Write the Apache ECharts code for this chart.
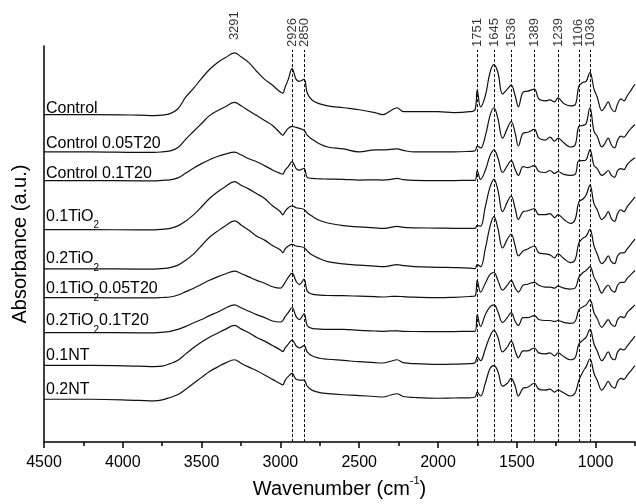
<!DOCTYPE html>
<html>
<head>
<meta charset="utf-8">
<script src="https://cdn.jsdelivr.net/npm/echarts@6/dist/echarts.min.js"></script>
<style>
  html, body { margin: 0; padding: 0; background: #fff; }
  #chart { width: 636px; height: 504px; }
</style>
</head>
<body>
<div id="chart"></div>
<script>
// wavenumber grid (cm-1), shared by every spectrum
const wavenumbers = [4500, 4200, 3900, 3800, 3750, 3700, 3650, 3600, 3550, 3500, 3450, 3400, 3350, 3291, 3250, 3200, 3150, 3100, 3050, 3000,
  2985, 2970, 2950, 2926, 2900, 2880, 2850, 2830, 2800, 2750, 2700, 2600, 2500, 2400, 2350, 2300, 2260, 2220, 2150, 2000, 1900, 1800,
  1765, 1751, 1730, 1700, 1670, 1645, 1620, 1590, 1560, 1536, 1510, 1490, 1460, 1430, 1389, 1360, 1320, 1290, 1260, 1239,
  1200, 1160, 1130, 1106, 1080, 1060, 1036, 1010, 990, 960, 940, 920, 900, 880, 860, 840, 820, 800, 775, 750];

// stacked absorbance (offset, arbitrary units)
const control = [334, 334, 333.5, 333, 333.5, 335, 340, 352, 361, 371, 380, 387, 392, 397, 393, 387, 378, 370, 364, 357,
  356, 362, 370, 381, 370, 368, 370, 356, 349, 345, 343, 341, 339, 336, 334, 338, 341, 337, 337, 337, 336, 337,
  339, 359, 342, 353, 377, 385, 377, 355, 360, 364, 353, 342, 357, 358, 360, 350, 348, 349, 347, 351,
  345, 343, 344, 363, 367, 368, 377, 360, 352, 338, 342, 347, 340, 337, 345, 350, 348, 353, 359, 365];
const control005T20 = [296, 296, 295.5, 295.5, 296, 297, 300.5, 309, 317, 325, 333, 338, 342, 346.5, 343, 338, 333, 328, 323, 315,
  313, 316, 320, 322, 321, 320, 318, 313, 309, 304, 301, 299, 296, 298, 298, 298.5, 299, 297.5, 296, 296, 296, 296.5,
  297, 302, 300, 312, 333, 341, 330, 310, 320, 327, 315, 302, 315, 316, 319, 310, 308, 311, 307, 310,
  305, 301, 303, 322, 323, 325, 341, 317, 312, 301, 305, 310, 303, 300, 308, 312, 311, 315, 320, 324];
const control01T20 = [266.7, 266.7, 266.5, 266.5, 267, 267.5, 269.5, 274.5, 279.5, 284, 288, 291.3, 293.8, 295.7, 293, 289, 286, 282, 277.5, 274,
  273.3, 277.5, 281, 286, 279, 277.3, 279.3, 270, 269, 268.5, 268.3, 268, 267.3, 267.5, 267.3, 268, 269, 267.7, 267, 266.7, 266.7, 267,
  267, 277, 268, 277, 292, 298, 290, 275, 282, 287, 278, 272, 281, 280, 282, 276, 275, 277, 274, 276,
  273, 272, 273, 287, 287, 288, 298, 282, 279, 272, 274, 277, 272, 270, 277, 279, 278, 283, 287, 290];
const tio2_01 = [216.7, 216.7, 216.5, 216.5, 217, 218, 220.5, 225.5, 232, 240, 248.5, 255, 260.5, 265.7, 262, 258, 253.3, 248.5, 241, 235,
  231.7, 235.5, 239, 241, 239, 238.5, 237.3, 234, 230.5, 226, 223.5, 220.7, 219.5, 218.5, 218, 219, 220, 219, 218.5, 218.3, 218, 218,
  218, 221, 220, 240, 260, 268, 257, 235, 245, 251, 238, 227, 235, 236, 238, 232, 232, 233, 229, 232,
  227, 223, 227, 245, 248, 252, 262, 243, 237, 227, 230, 235, 228, 225, 233, 237, 235, 240, 245, 250];
const tio2_02 = [176.7, 176.7, 176.5, 176.5, 177, 178, 180.5, 185.5, 192, 200.5, 209, 215, 220.5, 225.7, 221.5, 216, 210, 206, 200.5, 196,
  193.3, 197, 200, 201.7, 200, 199.5, 198.3, 195, 191, 187, 184, 181.7, 180.5, 179.5, 179, 180, 181, 180, 179, 178.3, 178, 177.5,
  177, 181, 179, 197, 220, 230, 218, 198, 207, 212, 200, 190, 195, 197, 200, 193, 192, 191, 188, 192,
  187, 183, 186, 203, 208, 210, 217, 200, 192, 182, 185, 190, 184, 182, 190, 193, 193, 197, 202, 207];
const tio2_01T20 = [147.3, 147.3, 147, 147, 147.5, 148, 150, 153.5, 157, 161, 165, 168.5, 171.5, 174.3, 172, 168.5, 165, 162, 158.5, 157,
  159, 163, 168, 172.3, 164, 160.7, 166, 154, 151, 150, 149.5, 149.3, 148.8, 148.3, 148, 148.5, 148.7, 148.3, 147.8, 147.3, 147.7, 148.5,
  149, 165, 153, 162, 171, 173, 165, 155, 160, 165, 157, 153, 160, 161, 163, 160, 158, 158, 157, 159,
  157, 156, 157, 168, 173, 175, 179, 168, 162, 152, 157, 160, 155, 153, 160, 163, 163, 167, 171, 175];
const tio2_02T20 = [111.7, 111.7, 111.5, 111.5, 112, 113, 115, 118, 121.7, 125, 129, 132.5, 136.5, 140, 137, 133.5, 130, 127, 123.5, 122.5,
  124, 128, 132, 137.3, 128, 125, 130.7, 119, 116, 115.3, 115, 115, 114, 113.3, 113, 113.5, 113.5, 113, 112.8, 112.7, 112.7, 113,
  113, 130, 118, 130, 138, 140, 133, 122, 127, 132, 123, 119, 127, 127, 129, 125, 124, 124, 123, 124,
  122, 121, 123, 135, 138, 140, 145, 132, 126, 117, 121, 125, 120, 118, 125, 128, 127, 132, 136, 140];
const nt01 = [78.3, 78.3, 77.5, 77, 77.5, 80, 83.5, 90, 96.5, 102, 107, 111, 115, 119, 115.5, 111.5, 106.7, 103, 98.5, 94,
  92.3, 96, 100, 104, 98, 96, 98.3, 92, 88, 85.5, 84.5, 83.3, 82, 81, 80.7, 82.5, 84, 81, 80, 79.3, 79.5, 80,
  81, 87, 83, 95, 108, 114, 107, 92, 97, 103, 93, 86, 93, 93, 96, 91, 90, 91, 88, 91,
  87, 84, 86, 100, 104, 107, 115, 100, 93, 83, 87, 92, 86, 84, 92, 95, 94, 98, 103, 108];
const nt02 = [43.7, 43.7, 42.5, 42, 43, 45.5, 48.5, 54, 60, 66, 72, 76.5, 80.5, 84, 80.5, 76.5, 72.7, 68.5, 64, 59.5,
  58.3, 63, 67, 70, 64, 63.3, 63.3, 57, 53, 50.5, 49.5, 48.3, 47.5, 46.5, 46, 48, 49.3, 46.5, 45.5, 44.7, 45, 45.2,
  46, 51, 47, 60, 75, 78, 72, 57, 60, 65, 57, 47, 55, 56, 60, 54, 53, 54, 51, 53,
  50, 47, 50, 63, 72, 77, 85, 70, 63, 53, 57, 62, 57, 55, 62, 65, 64, 68, 73, 78];

const sampleNames = ['Control', 'Control 0.05T20', 'Control 0.1T20', '0.1TiO2', '0.2TiO2',
  '0.1TiO20.05T20', '0.2TiO20.1T20', '0.1NT', '0.2NT'];
const spectra = [control, control005T20, control01T20, tio2_01, tio2_02, tio2_01T20, tio2_02T20, nt01, nt02];

// assigned bands (dashed markers)
const peaks = [3291, 2926, 2850, 1751, 1645, 1536, 1389, 1239, 1106, 1036];

// x axis ticks
const majorTicks = [1000, 1500, 2000, 2500, 3000, 3500, 4000, 4500];
const minorTicks = [750, 1250, 1750, 2250, 2750, 3250, 3750, 4250];

// ---- layout / style ----
const FONT = '"Liberation Sans", Arial, sans-serif';
const NAME_SIZE = 16, SUB_SIZE = 10, SUB_DROP = 12.5;
const labelLift = [-14, -16, -15, -21.5, -18, -17, -20, -18, -18]; // px above each trace's baseline
const peakTop = peaks.map(p => (p === 3291 ? 407 : 400));

const measureCtx = document.createElement('canvas').getContext('2d');
function textWidth(t, size) {
  measureCtx.font = size + 'px ' + FONT;
  return measureCtx.measureText(t).width;
}

// split a sample name into normal / subscript runs (TiO2 -> TiO + subscript 2)
function nameRuns(name) {
  const runs = [];
  name.split('TiO2').forEach((part, i, arr) => {
    if (part) runs.push({ text: part, sub: false });
    if (i < arr.length - 1) {
      runs.push({ text: 'TiO', sub: false });
      runs.push({ text: '2', sub: true });
    }
  });
  // merge consecutive normal runs
  return runs.reduce((acc, r) => {
    const last = acc[acc.length - 1];
    if (last && !last.sub && !r.sub) last.text += r.text; else acc.push({ ...r });
    return acc;
  }, []);
}

function nameLabels(name, y0, lift) {
  let x = 2;
  return nameRuns(name).map(r => {
    const size = r.sub ? SUB_SIZE : NAME_SIZE;
    const item = {
      coord: [4500, y0],
      label: {
        show: true,
        formatter: r.text,
        position: [x, lift + (r.sub ? SUB_DROP : 0)],
        align: 'left',
        verticalAlign: 'top',
        fontSize: size,
        color: '#000',
        fontFamily: FONT
      }
    };
    x += textWidth(r.text, size);
    return item;
  });
}

const chart = echarts.init(document.getElementById('chart'));

const series = spectra.map((vals, k) => ({
  name: sampleNames[k],
  type: 'line',
  data: wavenumbers.map((w, i) => [w, vals[i]]),
  showSymbol: false,
  smooth: 0.4,
  lineStyle: { color: '#111', width: 1.2 },
  silent: true,
  markPoint: {
    symbol: 'circle',
    symbolSize: 0,
    silent: true,
    data: nameLabels(sampleNames[k], vals[0], labelLift[k])
  }
}));

// dashed band markers and their rotated labels
series.push({
  type: 'scatter',
  data: peaks.map((p, i) => [p, peakTop[i] + 3]),
  symbolSize: 0,
  clip: false,
  silent: true,
  label: {
    show: true,
    position: 'inside',
    rotate: 90,
    align: 'left',
    verticalAlign: 'middle',
    formatter: p => String(p.value[0]),
    fontSize: 13,
    color: '#000',
    fontFamily: FONT
  },
  markLine: {
    symbol: ['none', 'none'],
    silent: true,
    label: { show: false },
    lineStyle: { color: '#000', type: [3, 2], width: 1 },
    data: peaks.map((p, i) => [{ coord: [p, 0] }, { coord: [p, peakTop[i]] }])
  }
});

const option = {
  animation: false,
  grid: { left: 44, right: 1, top: 46, bottom: 54 },
  xAxis: [{
    type: 'value',
    min: 750,
    max: 4500,
    interval: 250,
    inverse: true,
    axisLine: { lineStyle: { color: '#000', width: 1.5 } },
    axisTick: { length: 6, customValues: majorTicks, lineStyle: { color: '#000', width: 1.5 } },
    axisLabel: {
      customValues: majorTicks, fontSize: 16, color: '#000', fontFamily: FONT, margin: 12,
      formatter: v => String(v)
    },
    splitLine: { show: false },
    name: '{m|Wavenumber (cm}{p|-1}{m|)}',
    nameLocation: 'middle',
    nameGap: 29,
    nameTextStyle: {
      rich: {
        m: { fontSize: 20, lineHeight: 28, color: '#000', fontFamily: FONT },
        p: { fontSize: 11, lineHeight: 10, verticalAlign: 'top', color: '#000', fontFamily: FONT }
      }
    }
  }, {
    type: 'value',
    min: 750,
    max: 4500,
    interval: 250,
    inverse: true,
    position: 'bottom',
    axisLine: { show: false },
    axisLabel: { show: false },
    splitLine: { show: false },
    axisTick: { length: 4, customValues: minorTicks, lineStyle: { color: '#000', width: 1.5 } }
  }],
  yAxis: {
    type: 'value',
    min: 0,
    max: 404,
    axisLine: { show: true, lineStyle: { color: '#000', width: 1.5 } },
    axisTick: { show: false },
    axisLabel: { show: false },
    splitLine: { show: false },
    name: 'Absorbance (a.u.)',
    nameLocation: 'middle',
    nameGap: 14,
    nameTextStyle: { fontSize: 20, color: '#000', fontFamily: FONT }
  },
  series: series
};

chart.setOption(option);
</script>
</body>
</html>
